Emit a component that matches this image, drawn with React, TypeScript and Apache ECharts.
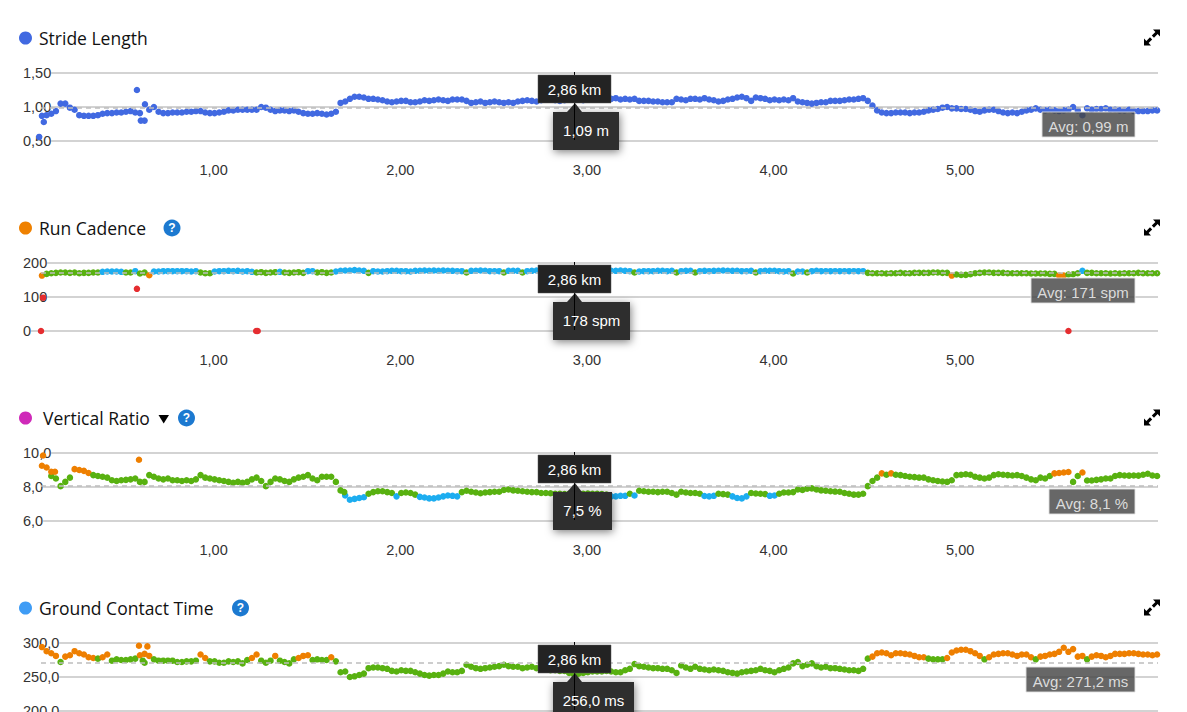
import React, { useEffect, useRef } from "react";
import * as echarts from "echarts";

const startKm = 0.08;
const stepKm = 0.025;
const maxKm = 6.06;
const tooltipDistance = "2,86 km";

const strideValues = [
  0.87, 0.88, 0.9, 0.94, 1.05, 1.05, 0.99, 0.96, 0.88, 0.87,
  0.87, 0.87, 0.88, 0.9, 0.91, 0.91, 0.92, 0.92, 0.93, 0.94,
  0.92, 0.91, 0.8, 0.96, 1.0, 0.93, 0.91, 0.91, 0.92, 0.92,
  0.92, 0.93, 0.93, 0.94, 0.94, 0.92, 0.91, 0.91, 0.92, 0.93,
  0.95, 0.95, 0.96, 0.96, 0.96, 0.96, 0.96, 1.0, 0.99, 0.96,
  0.94, 0.95, 0.95, 0.94, 0.95, 0.93, 0.91, 0.9, 0.9, 0.91,
  0.9, 0.89, 0.9, 0.93, 1.06, 1.08, 1.12, 1.15, 1.15, 1.14,
  1.12, 1.12, 1.11, 1.1, 1.08, 1.07, 1.08, 1.09, 1.09, 1.07,
  1.07, 1.08, 1.1, 1.09, 1.1, 1.11, 1.1, 1.09, 1.11, 1.11,
  1.11, 1.09, 1.06, 1.07, 1.08, 1.06, 1.07, 1.08, 1.07, 1.06,
  1.07, 1.06, 1.08, 1.09, 1.1, 1.09, 1.08, 1.1, 1.11, 1.11,
  1.1, 1.09, 1.1, 1.11, 1.12, 1.11, 1.1, 1.11, 1.12, 1.12,
  1.13, 1.12, 1.12, 1.13, 1.11, 1.12, 1.11, 1.12, 1.09, 1.09,
  1.09, 1.08, 1.08, 1.07, 1.07, 1.07, 1.12, 1.11, 1.1, 1.12,
  1.12, 1.11, 1.13, 1.11, 1.1, 1.08, 1.09, 1.11, 1.12, 1.14,
  1.15, 1.13, 1.09, 1.14, 1.13, 1.12, 1.1, 1.11, 1.1, 1.11,
  1.1, 1.13, 1.08, 1.07, 1.06, 1.05, 1.06, 1.07, 1.07, 1.09,
  1.09, 1.09, 1.1, 1.11, 1.11, 1.12, 1.13, 1.09, 1.02, 0.95,
  0.92, 0.91, 0.91, 0.92, 0.92, 0.92, 0.91, 0.92, 0.92, 0.93,
  0.95, 0.96, 0.97, 0.99, 1.0, 0.98, 0.98, 0.97, 0.97, 0.96,
  0.94, 0.93, 0.95, 0.96, 0.96, 0.94, 0.92, 0.91, 0.92, 0.91,
  0.93, 0.95, 0.96, 0.98, 0.96, 0.95, 0.96, 0.95, 0.94, 0.95,
  0.96, 1.0, 0.95, 0.88, 0.98, 0.96, 0.97, 0.97, 0.98, 0.96,
  0.96, 0.95, 0.95, 0.96, 0.94, 0.94, 0.94, 0.94, 0.95, 0.95,
];
const strideExtras = [[0.065, 0.56], [0.09, 0.78], [0.589, 1.25], [0.61, 0.8], [0.632, 1.04]];

const cadenceValues = [
  163, 168, 170, 171, 172, 172, 171, 172, 170, 171,
  171, 172, 172, 174, 175, 175, 175, 174, 172, 172,
  176, 169, 172, 164, 175, 175, 176, 176, 176, 176,
  176, 176, 175, 176, 172, 170, 170, 175, 176, 176,
  177, 176, 177, 175, 176, 174, 172, 173, 171, 172,
  173, 174, 172, 171, 172, 173, 171, 176, 176, 172,
  173, 171, 172, 175, 177, 178, 178, 179, 178, 177,
  171, 176, 175, 175, 176, 177, 177, 176, 176, 175,
  177, 177, 178, 177, 178, 177, 178, 177, 177, 176,
  176, 172, 177, 177, 178, 177, 176, 176, 176, 172,
  177, 177, 177, 172, 176, 177, 178, 178, 178, 177,
  178, 177, 178, 178, 177, 177, 178, 177, 178, 177,
  178, 177, 177, 177, 178, 177, 176, 172, 175, 176,
  176, 176, 177, 177, 176, 177, 172, 176, 177, 177,
  172, 176, 177, 176, 177, 177, 178, 177, 177, 177,
  176, 176, 177, 172, 176, 177, 177, 177, 176, 175,
  176, 169, 175, 175, 172, 176, 177, 176, 176, 176,
  176, 176, 176, 176, 176, 176, 176, 171, 170, 170,
  170, 169, 170, 170, 171, 170, 170, 171, 171, 171,
  171, 172, 172, 171, 171, 163, 166, 165, 165, 167,
  170, 171, 172, 172, 171, 171, 171, 170, 170, 170,
  170, 170, 169, 169, 169, 169, 168, 168, 163, 163,
  166, 167, 170, 177, 171, 171, 170, 170, 170, 169,
  170, 169, 170, 170, 170, 171, 170, 170, 170, 170,
];
const cadenceExtras = [[0.075, 0], [0.086, 98], [0.589, 124], [1.228, 0], [1.236, 0], [5.58, 0]];

const ratioValues = [
  9.25, 9.15, 8.65, 8.5, 8.05, 8.3, 8.55, 9.05, 9.0, 8.95,
  8.82, 8.7, 8.65, 8.6, 8.55, 8.4, 8.35, 8.4, 8.42, 8.45,
  8.5, 8.3, 8.3, 8.7, 8.6, 8.5, 8.45, 8.5, 8.4, 8.4,
  8.35, 8.4, 8.35, 8.45, 8.7, 8.55, 8.5, 8.45, 8.4, 8.35,
  8.3, 8.25, 8.3, 8.25, 8.3, 8.45, 8.55, 8.35, 8.05, 8.3,
  8.5, 8.45, 8.35, 8.3, 8.45, 8.55, 8.6, 8.7, 8.5, 8.4,
  8.6, 8.6, 8.6, 8.3, 7.8, 7.5, 7.25, 7.3, 7.35, 7.4,
  7.6, 7.7, 7.75, 7.75, 7.7, 7.65, 7.45, 7.65, 7.68, 7.65,
  7.55, 7.42, 7.38, 7.33, 7.33, 7.38, 7.45, 7.5, 7.48, 7.45,
  7.7, 7.78, 7.72, 7.68, 7.63, 7.68, 7.7, 7.72, 7.72, 7.82,
  7.85, 7.8, 7.78, 7.75, 7.72, 7.7, 7.7, 7.65, 7.65, 7.63,
  7.6, 7.6, 7.58, 7.6, 7.6, 7.58, 7.6, 7.62, 7.6, 7.6,
  7.58, 7.55, 7.45, 7.45, 7.48, 7.48, 7.6, 7.5, 7.78, 7.75,
  7.72, 7.72, 7.7, 7.72, 7.72, 7.65, 7.55, 7.72, 7.68, 7.65,
  7.65, 7.6, 7.47, 7.45, 7.48, 7.6, 7.58, 7.55, 7.45, 7.35,
  7.33, 7.45, 7.65, 7.62, 7.6, 7.58, 7.48, 7.5, 7.6, 7.68,
  7.68, 7.7, 7.85, 7.82, 7.9, 7.92, 7.85, 7.8, 7.78, 7.75,
  7.73, 7.72, 7.65, 7.6, 7.55, 7.55, 7.6, 8.05, 8.35, 8.55,
  8.8, 8.72, 8.8, 8.72, 8.7, 8.65, 8.6, 8.58, 8.55, 8.55,
  8.45, 8.4, 8.35, 8.32, 8.3, 8.4, 8.7, 8.72, 8.75, 8.72,
  8.6, 8.55, 8.5, 8.55, 8.7, 8.75, 8.72, 8.7, 8.68, 8.7,
  8.65, 8.55, 8.45, 8.4, 8.55, 8.5, 8.65, 8.8, 8.82, 8.85,
  8.88, 8.3, 8.65, 8.85, 8.38, 8.38, 8.42, 8.45, 8.5, 8.5,
  8.65, 8.7, 8.68, 8.67, 8.68, 8.67, 8.72, 8.78, 8.68, 8.65,
];
const ratioExtras = [[0.086, 9.85], [0.6, 9.6], [0.13, 8.9], [0.15, 8.9], [1.7, 7.7]];

const contactValues = [
  294, 288, 285, 281, 272, 280, 282, 288, 285, 283,
  279, 278, 277, 279, 283, 274, 276, 275, 275, 276,
  277, 282, 284, 281, 276, 274, 274, 274, 274, 272,
  272, 273, 273, 274, 283, 278, 273, 273, 271, 271,
  273, 272, 273, 270, 275, 278, 283, 274, 271, 274,
  281, 274, 272, 270, 276, 278, 281, 282, 275, 276,
  275, 275, 279, 273, 257, 258, 250, 251, 253, 255,
  263, 264, 264, 263, 262, 259, 258, 260, 259, 259,
  257, 255, 253, 252, 253, 253, 255, 258, 257, 257,
  259, 268, 265, 263, 262, 263, 264, 265, 266, 268,
  266, 265, 265, 263, 264, 265, 263, 262, 261, 260,
  260, 259, 259, 256, 254, 255, 256, 257, 258, 258,
  258, 259, 258, 257, 257, 260, 262, 269, 266, 265,
  264, 263, 263, 262, 262, 260, 256, 267, 264, 262,
  265, 262, 261, 260, 261, 260, 259, 257, 256, 255,
  257, 258, 259, 260, 262, 260, 259, 257, 260, 262,
  264, 270, 272, 266, 268, 270, 266, 264, 265, 263,
  263, 262, 261, 260, 260, 259, 262, 277, 280, 285,
  286, 285, 282, 285, 285, 284, 283, 281, 279, 279,
  277, 276, 276, 276, 278, 286, 289, 290, 290, 288,
  285, 281, 276, 279, 283, 284, 285, 285, 283, 281,
  283, 283, 279, 276, 280, 281, 283, 284, 287, 293,
  287, 291, 280, 281, 276, 280, 282, 281, 279, 281,
  284, 284, 284, 285, 285, 284, 283, 283, 282, 283,
];
const contactExtras = [[0.6, 296], [0.645, 295], [0.62, 274], [0.63, 271]];

const strideTicks = [0.5, 1.5, 0.5, 2];
const cadenceTicks = [0, 200, 100, 0];
const ratioTicks = [6, 10, 2, 1];
const contactTicks = [200, 300, 50, 1];

const averages = [0.99, 171, 8.1, 271.2];
const avgLabels = ["Avg: 0,99 m", "Avg: 171 spm", "Avg: 8,1 %", "Avg: 271,2 ms"];
const valueLabels = ["1,09 m", "178 spm", "7,5 %", "256,0 ms"];
const titles = ["Stride Length", "Run Cadence", "Vertical Ratio", "Ground Contact Time"];

const BLUE = "#1cadf0";
const GREEN = "#58b110";
const ORANGE = "#ee7f00";
const RED = "#e52d30";

const colorFns: ((v: number) => string)[] = [
  () => "#4169e1",
  (v) => (v < 140 ? RED : v < 165 ? ORANGE : v < 173.5 ? GREEN : BLUE),
  (v) => (v >= 8.8 ? ORANGE : v >= 7.52 ? GREEN : BLUE),
  (v) => (v >= 277.5 ? ORANGE : GREEN),
];

const toPoints = (vals: number[], extras: number[][]) =>
  vals.map((v, i) => [+(startKm + i * stepKm).toFixed(3), v]).concat(extras);

const EXPAND =
  "M16 0 L16 7 L13.6 4.6 L10 8.2 L7.8 6 L11.4 2.4 L9 0 Z M0 16 L0 9 L2.4 11.4 L6 7.8 L8.2 10 L4.6 13.6 L7 16 Z";
echarts.graphic.registerShape("expandIcon", echarts.graphic.extendPath(EXPAND, {}));

const FONT = "Liberation Sans, Arial, sans-serif";
const TITLE_FONT = "Open Sans, sans-serif";
const tops = [73, 263, 453, 643];
const GRID_H = 68;
const titleX = [39, 39, 43, 39];
const dotColors = ["#4169e1", "#ef8100", "#cf2ab9", "#3f9cf5"];
const helpX = [0, 172, 186.5, 240.5];
const valueBoxW = [66, 77, 59, 81];
const avgBoxX = [1042, 1031, 1049, 1026];
const avgBoxTop = [112, 278, 489, 667];

function buildGraphics() {
  const els: any[] = [];
  const Z = 100;
  tops.forEach((top, i) => {
    const offset = top - 73;
    els.push({ type: "circle", z: Z, shape: { cx: 25.5, cy: 38 + offset, r: 6.5 }, style: { fill: dotColors[i] } });
    els.push({ type: "expandIcon", z: Z, x: 1144, y: 29.5 + offset, scaleX: 1, scaleY: 1, style: { fill: "#000" } });
    if (helpX[i]) {
      els.push({ type: "circle", z: Z, shape: { cx: helpX[i], cy: 38 + offset, r: 8.5 }, style: { fill: "#1c79d0" } });
      els.push({
        type: "text", z: Z + 1, x: helpX[i], y: 38 + offset,
        style: { text: "?", fill: "#fff", font: `bold 12px ${FONT}`, textAlign: "center", textVerticalAlign: "middle" },
      });
    }
    // average badge
    els.push({
      type: "rect", z: Z, shape: { x: avgBoxX[i], y: avgBoxTop[i], width: 1135 - avgBoxX[i], height: 25 },
      style: { fill: "rgba(70,70,70,0.82)", stroke: "rgba(225,225,225,0.9)", lineWidth: 1 },
    });
    els.push({
      type: "text", z: Z + 1, x: (avgBoxX[i] + 1135) / 2, y: avgBoxTop[i] + 14.5,
      style: { text: avgLabels[i], fill: "#dcdcdc", font: `15px ${FONT}`, textAlign: "center", textVerticalAlign: "middle" },
    });
    // tooltip: value box
    els.push({
      type: "rect", z: Z, shape: { x: 553, y: 112 + offset, width: valueBoxW[i], height: 38 },
      style: { fill: "#2d2d2d", shadowBlur: 8, shadowColor: "rgba(0,0,0,0.5)", shadowOffsetX: 1, shadowOffsetY: 2 },
    });
    els.push({
      type: "polygon", z: Z, shape: { points: [[567, 112 + offset], [575, 103 + offset], [582, 112 + offset]] },
      style: { fill: "#2d2d2d" },
    });
    // crosshair
    els.push({
      type: "line", z: Z + 1, shape: { x1: 574.5, y1: 72 + offset, x2: 574.5, y2: 140 + offset },
      style: { stroke: "#000", lineWidth: 1 },
    });
    els.push({
      type: "text", z: Z + 3, x: 553 + valueBoxW[i] / 2, y: 130.5 + offset,
      style: { text: valueLabels[i], fill: "#fff", font: `15px ${FONT}`, textAlign: "center", textVerticalAlign: "middle" },
    });
    // tooltip: distance box
    els.push({
      type: "rect", z: Z + 2, shape: { x: 538, y: 75 + offset, width: 73, height: 28 },
      style: { fill: "#232323", stroke: "#555", lineWidth: 0.5 },
    });
    els.push({
      type: "text", z: Z + 3, x: 574.5, y: 89.5 + offset,
      style: { text: tooltipDistance, fill: "#fff", font: `15px ${FONT}`, textAlign: "center", textVerticalAlign: "middle" },
    });
  });
  els.push({ type: "polygon", z: Z, shape: { points: [[158.5, 415], [169, 415], [163.7, 423.5]] }, style: { fill: "#000" } });
  return els;
}

function buildOption() {
  const seriesData = [
    toPoints(strideValues, strideExtras),
    toPoints(cadenceValues, cadenceExtras),
    toPoints(ratioValues, ratioExtras),
    toPoints(contactValues, contactExtras),
  ];
  const tickSets = [strideTicks, cadenceTicks, ratioTicks, contactTicks];
  return {
    animation: false,
    backgroundColor: "#fff",
    title: titles.map((t, i) => ({
      text: t,
      left: titleX[i],
      top: tops[i] - 44,
      padding: 0,
      textStyle: { fontFamily: TITLE_FONT, fontSize: 17.5, fontWeight: "normal", color: "#111" },
    })),
    grid: tops.map((top) => ({ left: 27, right: 29, top, height: GRID_H, outerBoundsMode: "none" })),
    xAxis: tops.map((_, i) => ({
      type: "value",
      gridIndex: i,
      min: 0,
      max: maxKm,
      interval: 1,
      axisLine: { show: false },
      axisTick: { show: false },
      splitLine: { show: false },
      axisLabel: {
        show: i < 3,
        margin: 21,
        fontFamily: FONT,
        fontSize: 14.5,
        color: "#333",
        formatter: (v: number) => (v >= 1 && v <= 5 ? v.toFixed(2).replace(".", ",") : ""),
      },
    })),
    yAxis: tickSets.map(([min, max, interval, digits], i) => ({
      type: "value",
      gridIndex: i,
      min,
      max,
      interval,
      axisLine: { show: false },
      axisTick: { show: false },
      splitLine: { show: true, lineStyle: { color: "#c4c4c4", width: 1.5 } },
      axisLabel: {
        inside: true,
        margin: -4,
        fontFamily: FONT,
        fontSize: 14.5,
        color: "#333",
        backgroundColor: "#fff",
        padding: [2, 0, 0, 0],
        formatter: (v: number) => v.toFixed(digits).replace(".", ","),
      },
    })),
    series: seriesData.map((data, i) => ({
      type: "scatter",
      xAxisIndex: i,
      yAxisIndex: i,
      data,
      symbolSize: 6.5,
      clip: false,
      silent: true,
      itemStyle: { opacity: 1, color: (p: any) => colorFns[i](p.value[1]) },
      markLine: {
        silent: true,
        symbol: "none",
        label: { show: false },
        lineStyle: { color: "#bdbdbd", type: [5, 4], width: 1.5 },
        data: [[{ coord: [0.075, averages[i]] }, { coord: [maxKm, averages[i]] }]],
      },
    })),
    graphic: { elements: buildGraphics() },
  };
}

export default function App() {
  const ref = useRef<HTMLDivElement>(null);
  useEffect(() => {
    document.body.style.margin = "0";
    const chart = echarts.init(ref.current!, undefined, { renderer: "svg" });
    chart.setOption(buildOption() as any);
    return () => chart.dispose();
  }, []);
  return <div ref={ref} style={{ width: 1187, height: 712, overflow: "hidden" }} />;
}
